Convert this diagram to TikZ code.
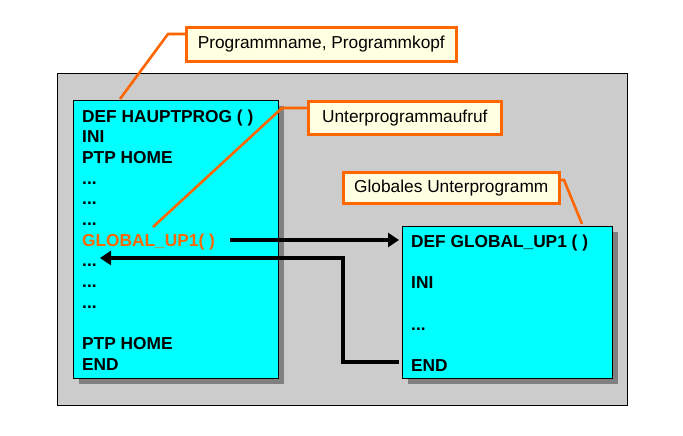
\documentclass[tikz,border=0pt]{standalone}
\usepackage{fontspec}
\setmainfont{Liberation Sans}
\usetikzlibrary{arrows.meta}
\definecolor{grayfill}{HTML}{CCCCCC}
\definecolor{shadowgray}{HTML}{808080}
\definecolor{cyanfill}{HTML}{00FFFF}
\definecolor{calloutorange}{HTML}{FF6600}
\definecolor{calloutfill}{HTML}{FFFFE1}
\tikzset{
  codebox/.style={draw=black, line width=0.8pt, fill=cyanfill, anchor=north west, inner sep=0pt},
  shadowbox/.style={fill=shadowgray, anchor=north west, inner sep=0pt, draw=none},
  codeline/.style={anchor=base west, inner sep=0pt, font=\fontsize{17.3}{20}\selectfont\bfseries},
  callout/.style={draw=calloutorange, line width=2.6pt, fill=calloutfill, inner sep=0pt,
    font=\fontsize{17.3}{20}\selectfont, anchor=north west},
  leader/.style={draw=calloutorange, line width=2.6pt},
  flow/.style={draw=black, line width=3.6pt, -{Triangle[length=11pt,width=14pt]}}
}
\begin{document}
\begin{tikzpicture}[x=1pt,y=-1pt]
\useasboundingbox[fill=white] (0,0) rectangle (683,436);
% gray panel
\node[draw=black, line width=0.8pt, fill=grayfill, anchor=north west, inner sep=0pt,
  minimum width=570pt, minimum height=332pt] (panel) at (57,73) {};
% shadows
\node[shadowbox, minimum width=205pt, minimum height=278pt] (mainshadow) at (79,106) {};
\node[shadowbox, minimum width=210pt, minimum height=152pt] (subshadow) at (408,232) {};
% code boxes
\node[codebox, minimum width=205pt, minimum height=278pt] (main) at (73,100) {};
\node[codebox, minimum width=210pt, minimum height=152pt] (sub) at (402,226) {};
% main program lines
\node[codeline] (m0) at (82,122) {DEF HAUPTPROG ( )};
\node[codeline] (m1) at (82,142.7) {INI};
\node[codeline] (m2) at (82,163.4) {PTP HOME};
\node[codeline] (m3) at (82,184.1) {...};
\node[codeline] (m4) at (82,204.8) {...};
\node[codeline] (m5) at (82,225.5) {...};
\node[codeline, text=calloutorange] (m6) at (82,246.2) {GLOBAL\_UP1( )};
\node[codeline] (m7) at (82,266.9) {...};
\node[codeline] (m8) at (82,287.6) {...};
\node[codeline] (m9) at (82,308.3) {...};
\node[codeline] (m11) at (82,349.7) {PTP HOME};
\node[codeline] (m12) at (82,370.4) {END};
% subprogram lines
\node[codeline] (s0) at (411,247) {DEF GLOBAL\_UP1 ( )};
\node[codeline] (s1) at (411,288.5) {INI};
\node[codeline] (s2) at (411,330) {...};
\node[codeline] (s3) at (411,371) {END};
% callouts
\node[callout, minimum width=270pt, minimum height=34pt] (c1) at (185,26) {Programmname, Programmkopf};
\node[callout, minimum width=193pt, minimum height=33pt] (c2) at (307,100) {Unterprogrammaufruf};
\node[callout, minimum width=216pt, minimum height=31pt] (c3) at (342,171) {Globales Unterprogramm};
% leaders
\coordinate (l1a) at (120,99);
\coordinate (l1b) at (168,34);
\draw[leader] (l1a) -- (l1b) -- (c1.west |- l1b);
\coordinate (l2a) at (153,227);
\coordinate (l2b) at (282,108);
\draw[leader] (l2a) -- (l2b) -- (c2.west |- l2b);
\coordinate (l3b) at (564,180);
\coordinate (l3a) at (582,224);
\draw[leader] (c3.east |- l3b) -- (l3b) -- (l3a);
% flow arrows
\coordinate (callstart) at (230,240);
\coordinate (callend) at (399,240);
\draw[flow] (callstart) -- (callend);
\coordinate (retstart) at (399,362);
\coordinate (retcorner) at (343,362);
\coordinate (retup) at (343,258);
\coordinate (retend) at (100,258);
\draw[flow] (retstart) -- (retcorner) -- (retup) -- (retend);
\end{tikzpicture}
\end{document}
